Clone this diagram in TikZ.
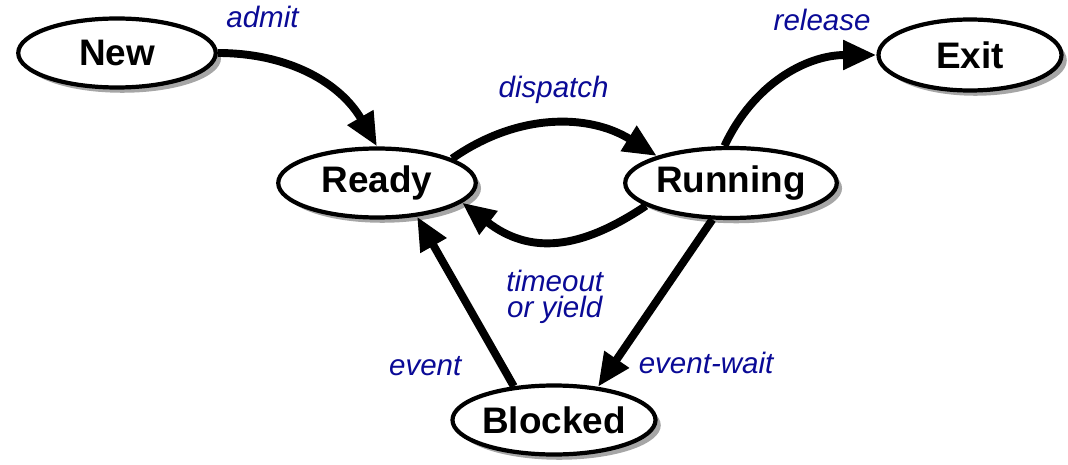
\documentclass[tikz,border=0pt]{standalone}
\usepackage{fontspec}
\setmainfont{Liberation Sans}
\usetikzlibrary{shapes.geometric,arrows.meta,shadows}
\definecolor{lblue}{RGB}{10,10,150}

\begin{document}
\begin{tikzpicture}[auto,
	state/.style={ellipse,draw,line width=2.4pt,fill=white,inner sep=0pt,
		minimum width=3.95cm,minimum height=1.38cm,
		font=\fontsize{21}{24}\selectfont\bfseries,
		drop shadow={shadow xshift=3pt,shadow yshift=-3pt,fill=black!35,opacity=1}},
	trans/.style={line width=4.5pt,-{Triangle[length=19pt,width=16pt]}},
	lbl/.style={font=\fontsize{16.8}{14.5}\selectfont\itshape,text=lblue,align=center}]
				\useasboundingbox (0,0) rectangle (21.36,-9.3);
				\node[state] (new) at (2.34,-1.06) {New};
				\node[state] (ready) at (7.54,-3.66) {Ready};
				\node[state,minimum width=3.98cm,minimum height=1.4cm] (running) at (14.62,-3.66) {Running};
				\node[state,minimum width=3.66cm,minimum height=1.42cm] (exit) at (19.4,-1.1) {Exit};
				\node[state,minimum width=4.02cm] (blocked) at (11.08,-8.4) {Blocked};
				\draw[trans] (new.east) to[out=0,in=120] node[lbl,pos=0.22,above=0.4cm] {admit} (ready.north);
				\draw[trans] (ready.18) to[out=35,in=148] node[lbl,above=0.22cm] {dispatch} (running.160);
				\draw[trans] (running.195) .. controls (11.6,-5.0) and (10.6,-5.1) .. node[lbl,pos=0.5,below=0.4cm] {timeout\\or yield} (ready.-13);
				\draw[trans] (running.100) to[out=65,in=180] node[lbl,pos=0.72,above=0.42cm] {release} (exit.west);
				\draw[trans] (running.243) to node[lbl,pos=0.86,right=0.3cm] {event-wait} (blocked.37);
				\draw[trans] (blocked.140) to node[lbl,pos=0.12,left=0.62cm] {event} (ready.-40);
			\end{tikzpicture}
\end{document}
